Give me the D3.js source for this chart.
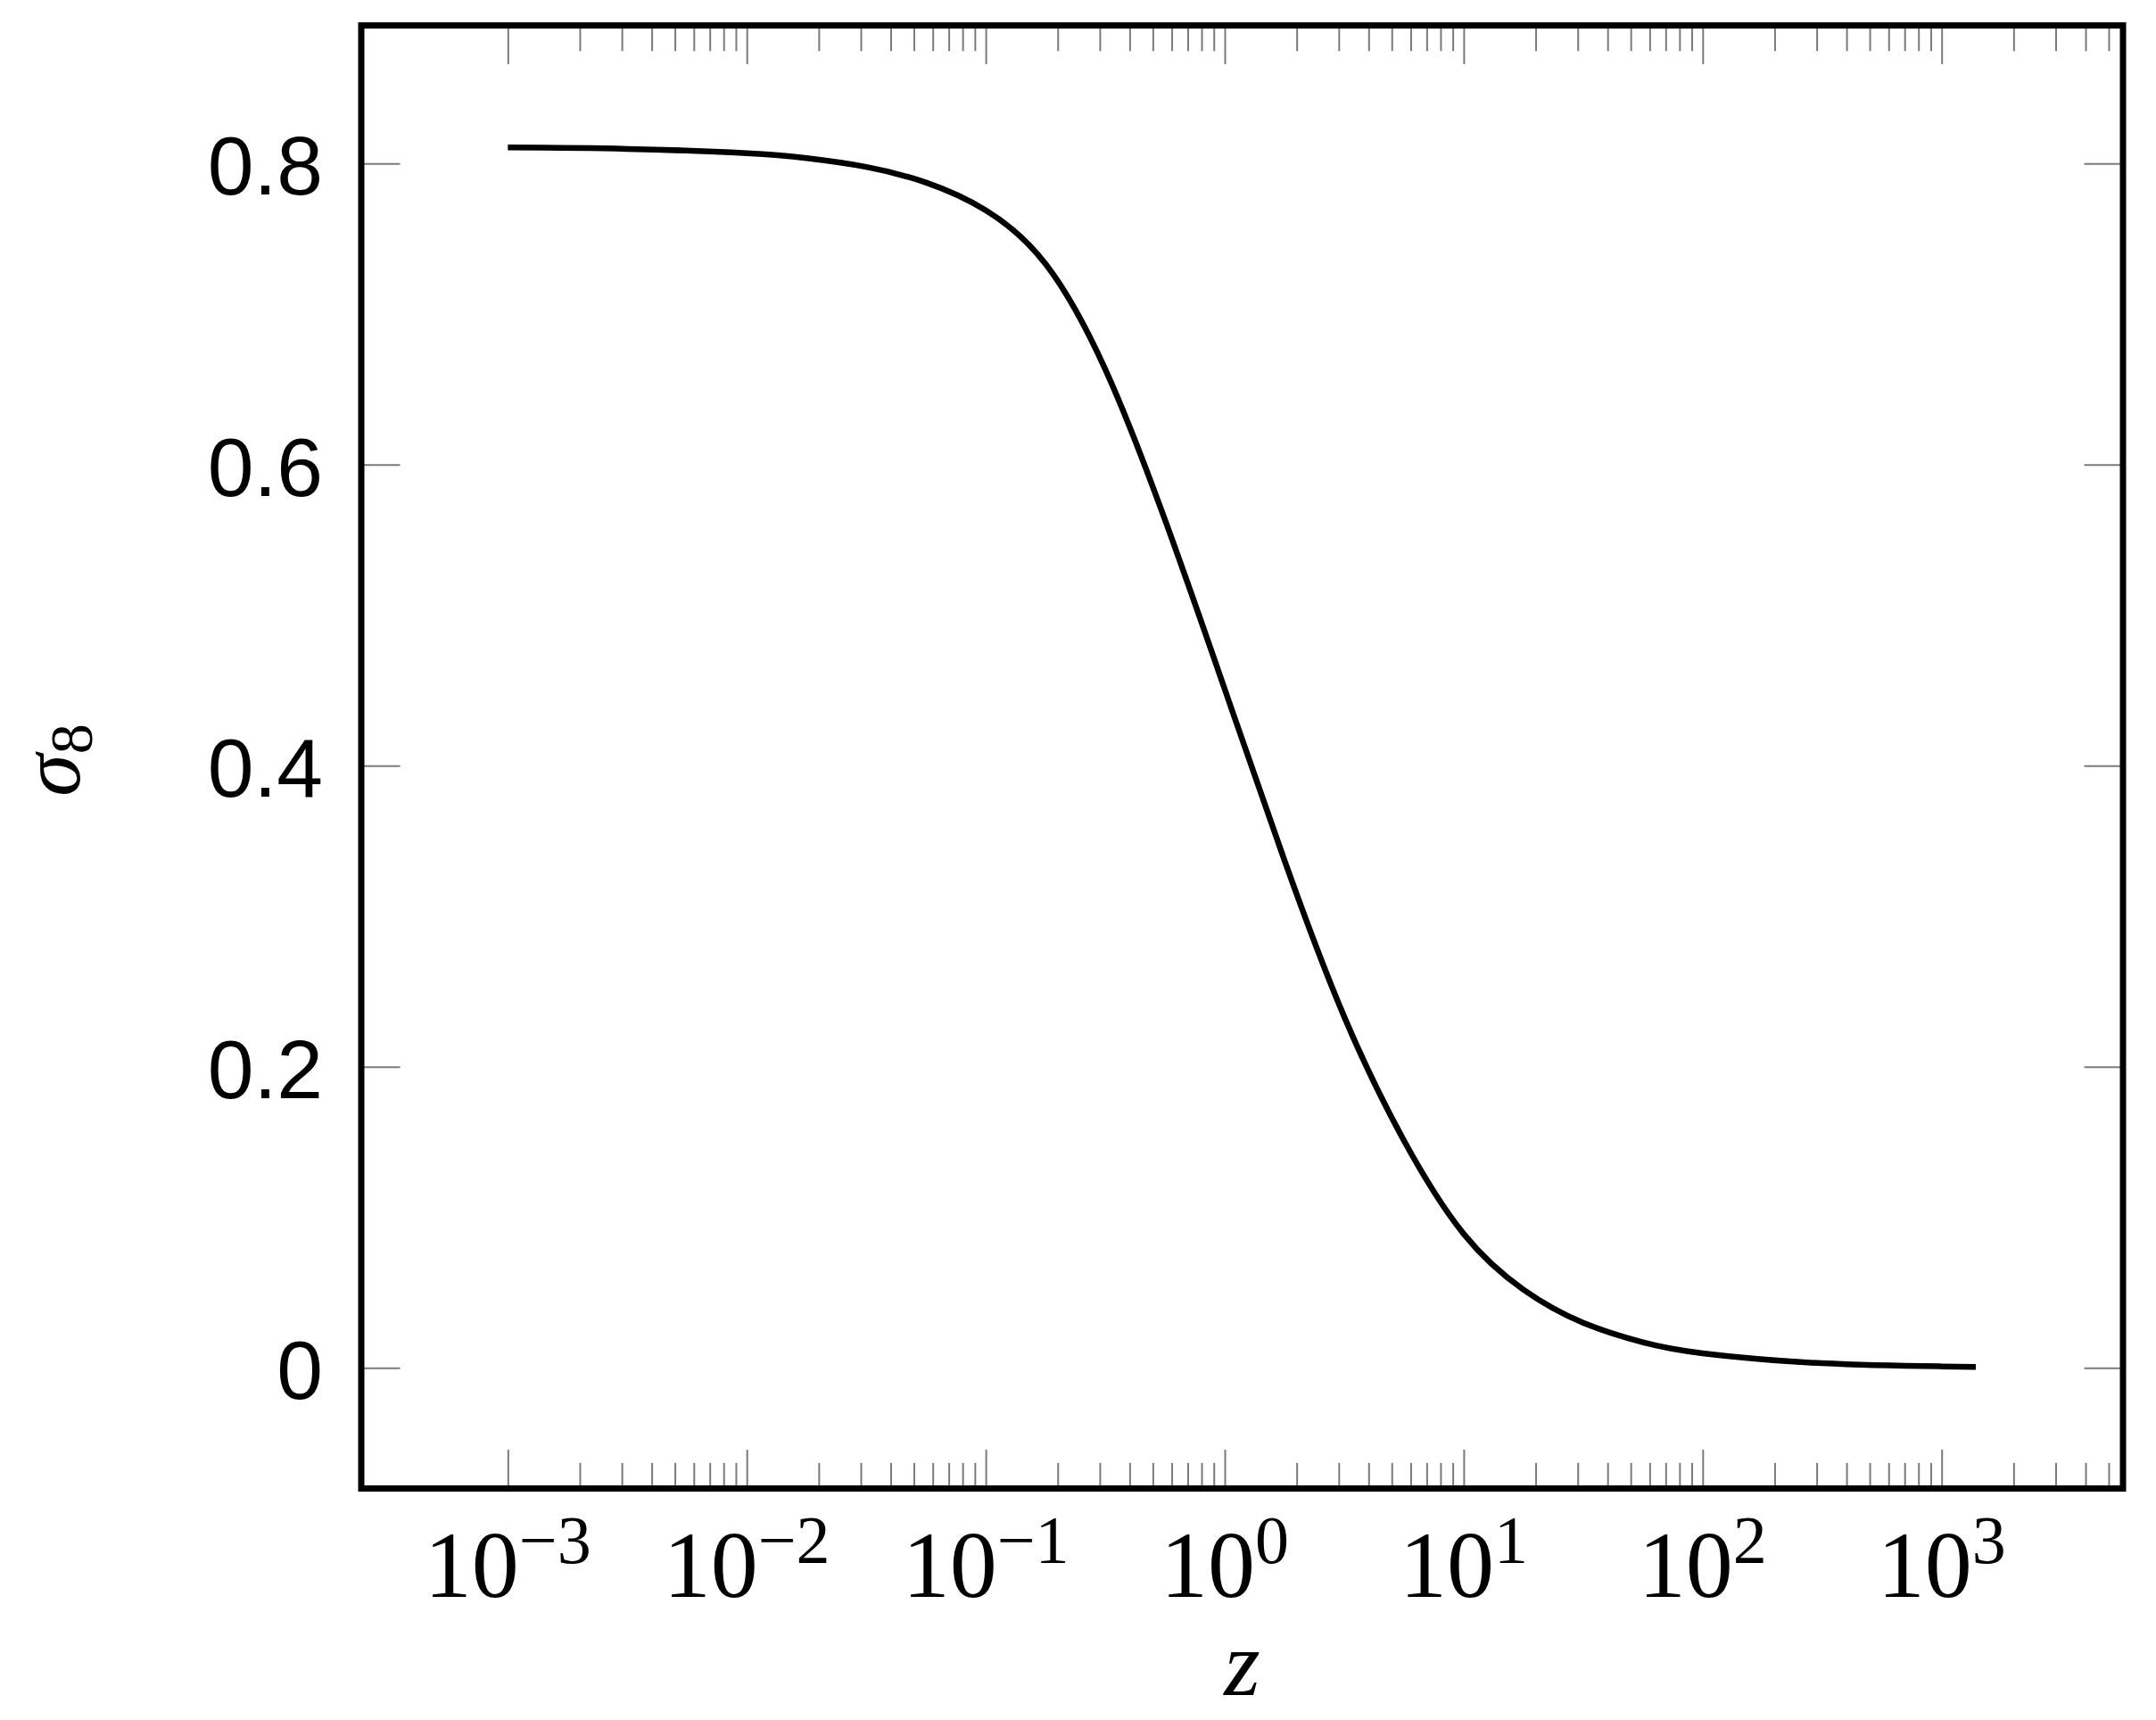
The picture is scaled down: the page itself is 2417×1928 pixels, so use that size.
<!DOCTYPE html>
<html>
<head>
<meta charset="utf-8">
<script src="https://cdn.jsdelivr.net/npm/d3@7"></script>
<style>
  html, body { margin: 0; padding: 0; background: #fff; }
  svg { display: block; }
</style>
</head>
<body>
<script>
// ---- data ----
const zValues = [0.001, 0.003162, 0.01, 0.01778, 0.03162, 0.05623, 0.1, 0.1778, 0.3162, 0.5623, 1, 1.778, 3.162, 5.623, 10, 17.78, 31.62, 56.23, 100, 316.2, 1000, 1390];
const sigma8Values = [0.8106, 0.8097, 0.8068, 0.8035, 0.7977, 0.7873, 0.7689, 0.7333, 0.6633, 0.5633, 0.4508, 0.3371, 0.2333, 0.1510, 0.0890, 0.0520, 0.0300, 0.0170, 0.0097, 0.0031, 0.0010, 0.0007];
const xMajorTicks = [1e-3, 1e-2, 1e-1, 1e0, 1e1, 1e2, 1e3];
const xTickExponents = ["\u22123", "\u22122", "\u22121", "0", "1", "2", "3"];
const yTicks = [0, 0.2, 0.4, 0.6, 0.8];
const yTickLabels = ["0", "0.2", "0.4", "0.6", "0.8"];
const xAxisLabel = "z";
const yAxisSymbol = "\u03C3";
const yAxisSubscript = "8";

// ---- layout ----
const W = 2417, H = 1928;
const L = 405, R = 2380, T = 28.5, B = 1668.5;
const majorLen = 43.5, minorLen = 28.7;
const tickColor = "#7a7a7a";

const svg = d3.select("body").append("svg").attr("width", W).attr("height", H);

const x = d3.scaleLog().domain([Math.pow(10, -3.6133), Math.pow(10, 3.7589)]).range([L, R]);
const y = d3.scaleLinear().domain([-0.0801, 0.8917]).range([B, T]);

// minor ticks: 2..9 after each major tick, within domain
const minorTicks = [];
xMajorTicks.forEach(d => {
  for (let m = 2; m <= 9; m++) {
    const v = d * m;
    if (v <= x.domain()[1]) minorTicks.push(v);
  }
});

function styleAxis(g) {
  g.select(".domain").remove();
  g.selectAll(".tick line").attr("stroke", tickColor).attr("stroke-width", 2);
  g.selectAll(".tick text").remove();
}

// bottom ticks (inside)
svg.append("g").attr("transform", `translate(0,${B})`)
  .call(d3.axisBottom(x).tickValues(xMajorTicks).tickSize(-majorLen).tickFormat(""))
  .call(styleAxis);
svg.append("g").attr("transform", `translate(0,${B})`)
  .call(d3.axisBottom(x).tickValues(minorTicks).tickSize(-minorLen).tickFormat(""))
  .call(styleAxis);
// top ticks (inside)
svg.append("g").attr("transform", `translate(0,${T})`)
  .call(d3.axisTop(x).tickValues(xMajorTicks).tickSize(-majorLen).tickFormat(""))
  .call(styleAxis);
svg.append("g").attr("transform", `translate(0,${T})`)
  .call(d3.axisTop(x).tickValues(minorTicks).tickSize(-minorLen).tickFormat(""))
  .call(styleAxis);
// left / right ticks
svg.append("g").attr("transform", `translate(${L},0)`)
  .call(d3.axisLeft(y).tickValues(yTicks).tickSize(-majorLen).tickFormat(""))
  .call(styleAxis);
svg.append("g").attr("transform", `translate(${R},0)`)
  .call(d3.axisRight(y).tickValues(yTicks).tickSize(-majorLen).tickFormat(""))
  .call(styleAxis);

// curve
const line = d3.line()
  .x((d, i) => x(zValues[i]))
  .y(d => y(d))
  .curve(d3.curveNatural);
svg.append("path")
  .attr("d", line(sigma8Values))
  .attr("fill", "none")
  .attr("stroke", "#000")
  .attr("stroke-width", 6.5)
  .attr("stroke-linejoin", "round");

// frame
svg.append("rect")
  .attr("x", L).attr("y", T).attr("width", R - L).attr("height", B - T)
  .attr("fill", "none").attr("stroke", "#000").attr("stroke-width", 7);

// y tick labels
svg.append("g").selectAll("text").data(yTicks).join("text")
  .attr("x", L - 43)
  .attr("y", d => y(d) + 35)
  .attr("text-anchor", "end")
  .attr("font-family", "'Liberation Sans', Arial, sans-serif")
  .attr("font-size", 93)
  .attr("fill", "#000")
  .text((d, i) => yTickLabels[i]);

// x tick labels 10^n
const xl = svg.append("g").selectAll("text").data(xMajorTicks).join("text")
  .attr("x", d => x(d))
  .attr("y", 1790)
  .attr("text-anchor", "middle")
  .attr("font-family", "'Liberation Serif', 'Times New Roman', serif")
  .attr("font-size", 106)
  .attr("fill", "#000");
xl.append("tspan").text("10");
xl.append("tspan").attr("dy", -38).attr("font-size", 76).text((d, i) => xTickExponents[i]);

// x axis label
svg.append("text")
  .attr("x", (L + R) / 2).attr("y", 1900)
  .attr("text-anchor", "middle")
  .attr("font-family", "'Liberation Serif', 'Times New Roman', serif")
  .attr("font-style", "italic")
  .attr("font-size", 104)
  .text(xAxisLabel);

// y axis label (rotated)
const yl = svg.append("text")
  .attr("transform", `translate(89,852) rotate(-90)`)
  .attr("text-anchor", "middle")
  .attr("font-family", "'Liberation Serif', 'Times New Roman', serif")
  .attr("font-size", 96);
yl.append("tspan").attr("font-style", "italic").text(yAxisSymbol);
yl.append("tspan").attr("dy", 14).attr("font-size", 68).text(yAxisSubscript);
</script>
</body>
</html>
